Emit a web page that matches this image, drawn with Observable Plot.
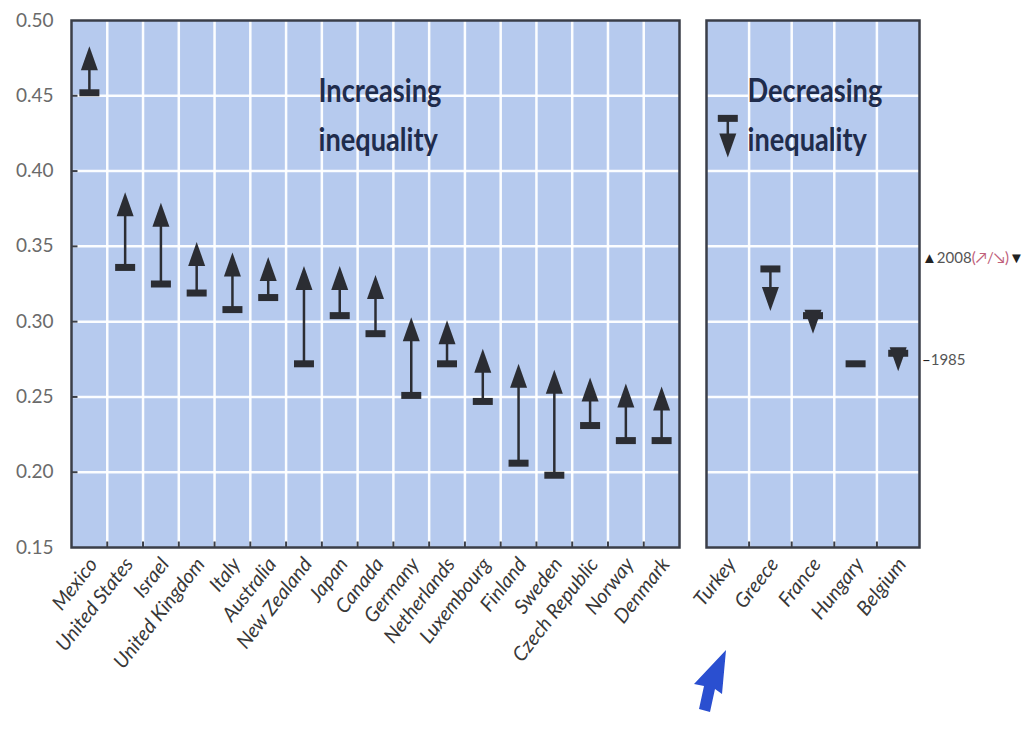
<!DOCTYPE html>
<html>
<head>
<meta charset="utf-8">
<script src="https://cdn.jsdelivr.net/npm/d3@7"></script>
<script src="https://cdn.jsdelivr.net/npm/@observablehq/plot@0.6"></script>
<style>
  body { margin: 0; background: #fff; }
  #wrap { position: relative; width: 1030px; height: 730px; overflow: hidden; font-family: Lato, "Open Sans", sans-serif; }
  #wrap svg { position: absolute; left: 0; top: 0; }
  .legend { position: absolute; font-size: 15px; color: #555; white-space: nowrap; line-height: 1; }
  .legend b { color: #222; font-weight: normal; }
  .legend .pk { color: #c0607a; }
  #cursor { position: absolute; left: 690px; top: 646px; width: 44px; height: 70px; background: #2a4fd0;
    clip-path: polygon(36px 4px, 32px 48px, 25px 43px, 20px 66px, 9px 63px, 14px 40px, 4px 38px); }
</style>
</head>
<body>
<div id="wrap">
  <div class="legend" style="left:922px; top:250px;"><b>▲</b>2008<span class="pk">(↗/↘)</span><b>▼</b></div>
  <div class="legend" style="left:922px; top:352px;"><b>–</b>1985</div>
  <div id="cursor"></div>
</div>
<script>
// ---- data (Gini coefficients, mid-1980s and 2008) ----
const incCountries = ["Mexico","United States","Israel","United Kingdom","Italy","Australia","New Zealand","Japan","Canada","Germany","Netherlands","Luxembourg","Finland","Sweden","Czech Republic","Norway","Denmark"];
const inc1985 = [0.452,0.336,0.325,0.319,0.308,0.316,0.272,0.304,0.292,0.251,0.272,0.247,0.206,0.198,0.231,0.221,0.221];
const inc2008 = [0.475,0.378,0.371,0.345,0.338,0.335,0.329,0.329,0.323,0.295,0.293,0.274,0.264,0.260,0.255,0.251,0.249];

const decCountries = ["Turkey","Greece","France","Hungary","Belgium"];
const dec1985 = [0.435,0.335,0.304,0.272,0.279];
const dec2008 = [0.417,0.315,0.300,0.272,0.275];

const yTicks = [0.15,0.20,0.25,0.30,0.35,0.40,0.45,0.50];
const yDomain = [0.15, 0.50];

// ---- symbols ----
const triUp = {draw(c){c.moveTo(0,-12);c.lineTo(8.5,12);c.lineTo(-8.5,12);c.closePath();}};
const triDown = {draw(c){c.moveTo(0,12);c.lineTo(8.5,-12);c.lineTo(-8.5,-12);c.closePath();}};
const barSym = {draw(c){c.moveTo(-10,-3.5);c.lineTo(10,-3.5);c.lineTo(10,3.5);c.lineTo(-10,3.5);c.closePath();}};
const vTick = {draw(c){c.moveTo(0,0);c.lineTo(0,-6);}};
const hTick = {draw(c){c.moveTo(0,0);c.lineTo(6,0);}};

const W = 1030, H = 730;
const BG = "#b6caee", DARK = "#2b2d33", FRAME = "#3a3e48";

function panel(countries, v85, v08, {left, right, yAxis, title}) {
  const n = countries.length;
  const rows = countries.map((c, i) => ({country: c, i: i + 0.5, a: v85[i], b: v08[i]}));
  const changed = rows.filter(d => d.a !== d.b);
  const marks = [
    Plot.frame({fill: BG}),
    Plot.gridY(yTicks.slice(1, -1), {stroke: "#fff", strokeOpacity: 0.95, strokeWidth: 2.5}),
    Plot.ruleX(d3.range(1, n), {stroke: "#fff", strokeOpacity: 0.95, strokeWidth: 2.5}),
    Plot.dot(d3.range(1, n), {x: d => d, frameAnchor: "bottom", symbol: vTick, stroke: FRAME, strokeWidth: 2, fill: "none"}),
    Plot.ruleX(changed, {x: "i", y1: "a", y2: "b", stroke: DARK, strokeWidth: 2.5}),
    Plot.dot(rows, {x: "i", y: "a", symbol: barSym, fill: DARK, stroke: "none"}),
    Plot.dot(changed, {x: "i", y: "b", symbol: d => d.b > d.a ? "up" : "down", fill: DARK, stroke: "none"}),
    Plot.frame({stroke: FRAME, strokeWidth: 2.5}),
    Plot.text(countries, {x: (d, i) => i + 0.5, frameAnchor: "bottom", dy: 17, dx: 9, rotate: -52,
      textAnchor: "end", fontStyle: "italic", fontSize: 20, fill: "#383838"}),
    Plot.text([title], {frameAnchor: "top-left", dx: title.dx, dy: 47, lineAnchor: "top", text: d => d.text,
      textAnchor: "start", fontSize: 32, fontWeight: "bold", lineHeight: 1.52, fill: "#1f2c4c",
      ariaDescription: "paneltitle"})
  ];
  if (yAxis) {
    marks.push(Plot.dot(yTicks.slice(1, -1), {y: d => d, frameAnchor: "left", symbol: hTick, stroke: FRAME, strokeWidth: 2, fill: "none"}));
    marks.push(Plot.axisY(yTicks, {tickSize: 0, tickPadding: 18, tickFormat: d3.format(".2f"), fontSize: 19, fill: "#6a6a6a", label: null}));
  }
  const svg = Plot.plot({
    width: W, height: H,
    marginLeft: left, marginRight: W - right, marginTop: 20, marginBottom: 183,
    x: {type: "linear", domain: [0, n], axis: null},
    y: {domain: yDomain, axis: null},
    symbol: {type: "ordinal", domain: ["up", "down"], range: [triUp, triDown]},
    style: {background: "transparent", fontFamily: "Lato, 'Open Sans', sans-serif", overflow: "visible"},
    marks
  });
  // condense the panel title horizontally (the original uses a narrow face)
  svg.querySelectorAll('[aria-description="paneltitle"] text').forEach(t => {
    t.setAttribute("transform", (t.getAttribute("transform") || "") + " scale(" + title.sx + ",1)");
  });
  return svg;
}

const wrap = document.getElementById("wrap");
wrap.appendChild(panel(incCountries, inc1985, inc2008, {left: 71, right: 679, yAxis: true, title: {text: "Increasing\ninequality", dx: 247, sx: 0.85}}));
wrap.appendChild(panel(decCountries, dec1985, dec2008, {left: 706, right: 919, yAxis: false, title: {text: "Decreasing\ninequality", dx: 41, sx: 0.85}}));
</script>
</body>
</html>
